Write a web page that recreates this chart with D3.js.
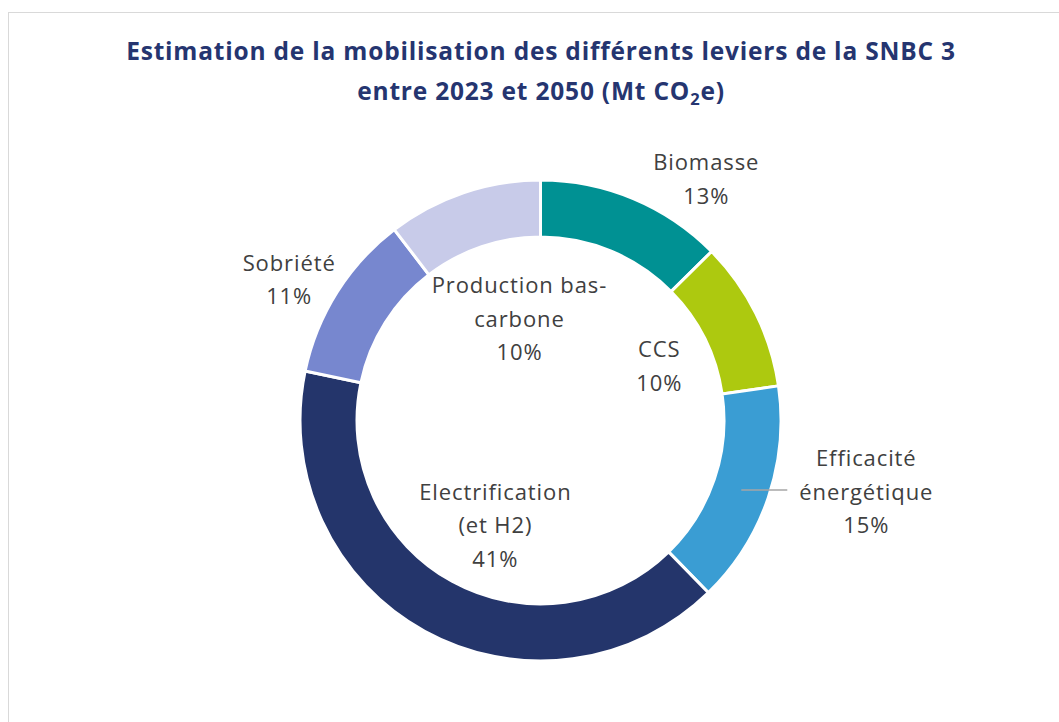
<!DOCTYPE html>
<html lang="fr">
<head>
<meta charset="UTF-8" />
<script src="https://d3js.org/d3.v7.min.js"></script>
<title>SNBC 3</title>
<style>
  body { margin: 0; background: #fff; }
</style>
</head>
<body>
<script>
// données (part de chaque levier, %)
var categories = ["Biomasse", "CCS", "Efficacité énergétique", "Electrification (et H2)", "Sobriété", "Production bas-carbone"];
var values = [12.6, 10.1, 15.0, 40.6, 11.3, 10.4];
var labelLines = [["Biomasse"], ["CCS"], ["Efficacité", "énergétique"], ["Electrification", "(et H2)"], ["Sobriété"], ["Production bas-", "carbone"]];
var colors = ["#009193", "#adc90f", "#3a9dd3", "#24356b", "#7787cf", "#c8cbe9"];

// décalage des étiquettes par rapport au centroïde
var labelOffset = [[84, -38], [-71, 48], [125, 11], [57, -73], [-72, -20], [47, 107]];

var width = 1059, height = 722;
var cx = 540.5, cy = 420.5, rOut = 240.5, rIn = 183.5;

var svg = d3.select("body").append("svg").attr("width", width).attr("height", height);

svg.append("rect").attr("x", 8.5).attr("y", 12.5).attr("width", width).attr("height", height)
  .attr("fill", "none").attr("stroke", "#d9d9d9").attr("stroke-width", 1);

var title = svg.append("text").attr("text-anchor", "middle")
  .attr("font-family", "Open Sans").attr("font-weight", 700).attr("font-size", 24.5)
  .attr("letter-spacing", 0.8).attr("fill", "#253570");
title.append("tspan").attr("x", 541).attr("y", 60).text("Estimation de la mobilisation des différents leviers de la SNBC 3");
var l2 = title.append("tspan").attr("x", 541).attr("y", 100);
l2.append("tspan").text("entre 2023 et 2050 (Mt CO");
l2.append("tspan").attr("font-size", 16.5).attr("dy", 5).text("2");
l2.append("tspan").attr("dy", -5).text("e)");

var data = categories.map(function(c, i){ return {cat: c, value: values[i], lines: labelLines[i], color: colors[i], off: labelOffset[i]}; });

var pie = d3.pie().sort(null).value(function(d){ return d.value; });
var arc = d3.arc().innerRadius(rIn).outerRadius(rOut);
var mid = d3.arc().innerRadius((rIn + rOut) / 2).outerRadius((rIn + rOut) / 2);
var total = d3.sum(values);
var pct = function(v){ return Math.round(v / total * 100) + "%"; };

var g = svg.append("g").attr("transform", "translate(" + cx + "," + cy + ")");
var arcs = pie(data);

g.selectAll("path.slice").data(arcs).enter().append("path")
  .attr("class", "slice")
  .attr("d", arc)
  .attr("fill", function(d){ return d.data.color; })
  .attr("stroke", "#fff").attr("stroke-width", 3);

// ligne de rappel pour Efficacité
var eff = arcs[2];
var c2 = mid.centroid(eff);
g.append("line").attr("x1", c2[0]).attr("y1", c2[1] + 1.5).attr("x2", c2[0] + 46).attr("y2", c2[1] + 1.5)
  .attr("stroke", "#a6a6a6").attr("stroke-width", 1.5);

var lh = 33.5;
arcs.forEach(function(a){
  var c = mid.centroid(a);
  var lines = a.data.lines.concat([pct(a.data.value)]);
  var x = c[0] + a.data.off[0], y = c[1] + a.data.off[1];
  var t = g.append("text").attr("text-anchor", "middle")
    .attr("font-family", "Open Sans").attr("font-size", 22).attr("letter-spacing", 0.9).attr("fill", "#404040");
  lines.forEach(function(s, k){
    t.append("tspan").attr("x", x).attr("y", y + (k - (lines.length - 1) / 2) * lh).text(s);
  });
});
</script>
</body>
</html>
